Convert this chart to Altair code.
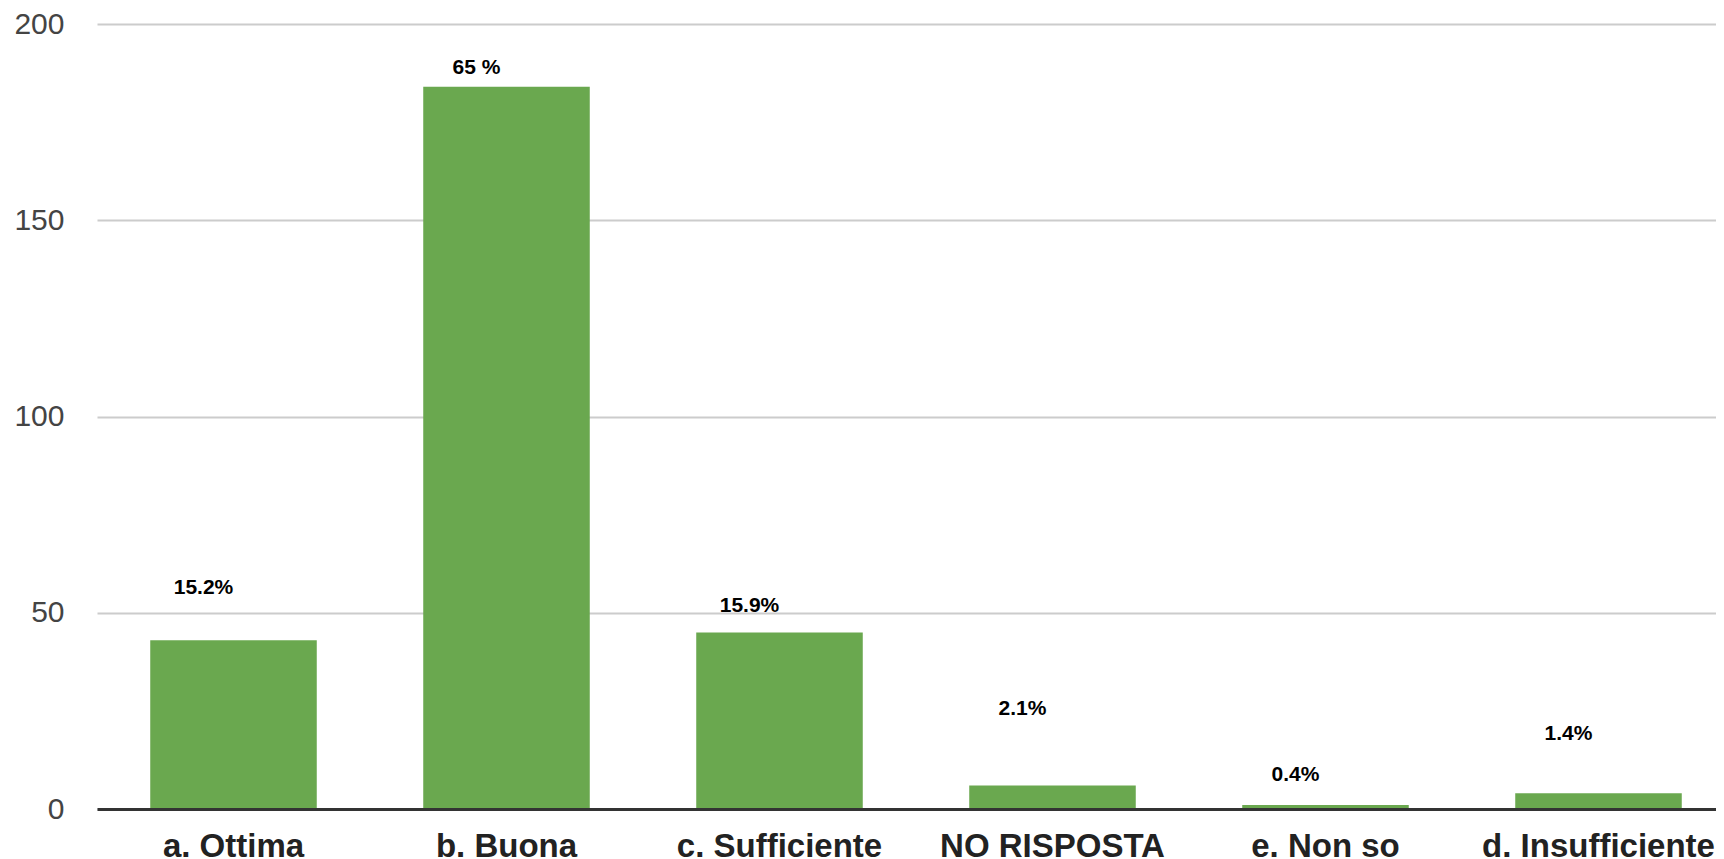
import altair as alt
import pandas as pd

categories = ["a. Ottima", "b. Buona", "c. Sufficiente",
              "NO RISPOSTA", "e. Non so", "d. Insufficiente"]
counts = [43, 184, 45, 6, 1, 4]
pct_labels = ["15.2%", "65 %", "15.9%", "2.1%", "0.4%", "1.4%"]
label_level = [56.3, 188.8, 51.7, 25.5, 8.7, 19.1]
y_ticks = [0, 50, 100, 150, 200]

df = pd.DataFrame({"cat": categories, "count": counts, "pct": pct_labels, "lvl": label_level})

FONT = "Liberation Sans"
xscale = alt.Scale(domain=categories, range=[0, 1638], paddingInner=0.39, paddingOuter=0.195)
yscale = alt.Scale(domain=[0, 200], nice=False)

base = alt.Chart(df)

bars = base.mark_bar(color="#6AA84F").encode(
    x=alt.X("cat:N", sort=categories, scale=xscale,
            axis=alt.Axis(title=None, labelAngle=0, ticks=False, domainColor="#333333",
                          domainWidth=3, labelFontSize=33, labelFontWeight="bold",
                          labelColor="#222222", labelFont=FONT, labelPadding=21, zindex=1,
                          grid=False, labelLimit=0, labelOverlap=False)),
    y=alt.Y("count:Q", scale=yscale,
            axis=alt.Axis(title=None, values=y_ticks, grid=True, gridColor="#cccccc",
                          gridWidth=2, domain=False, ticks=False, labelFontSize=30,
                          labelColor="#444444", labelFont=FONT, labelPadding=33)),
)

texts = base.mark_text(fontSize=21, fontWeight="bold", color="#000000", font=FONT,
                       align="center", baseline="middle", dx=-30).encode(
    x=alt.X("cat:N", sort=categories, scale=xscale),
    y=alt.Y("lvl:Q", scale=yscale),
    text="pct:N",
)

chart = alt.layer(bars, texts).properties(
    width=1619, height=785,
    autosize=alt.AutoSizeParams(type="none"),
    padding={"left": 89, "top": 16, "right": 0, "bottom": 50},
).configure_view(stroke=None)

chart.save("out.html", embed_options={"renderer": "svg", "actions": False})
